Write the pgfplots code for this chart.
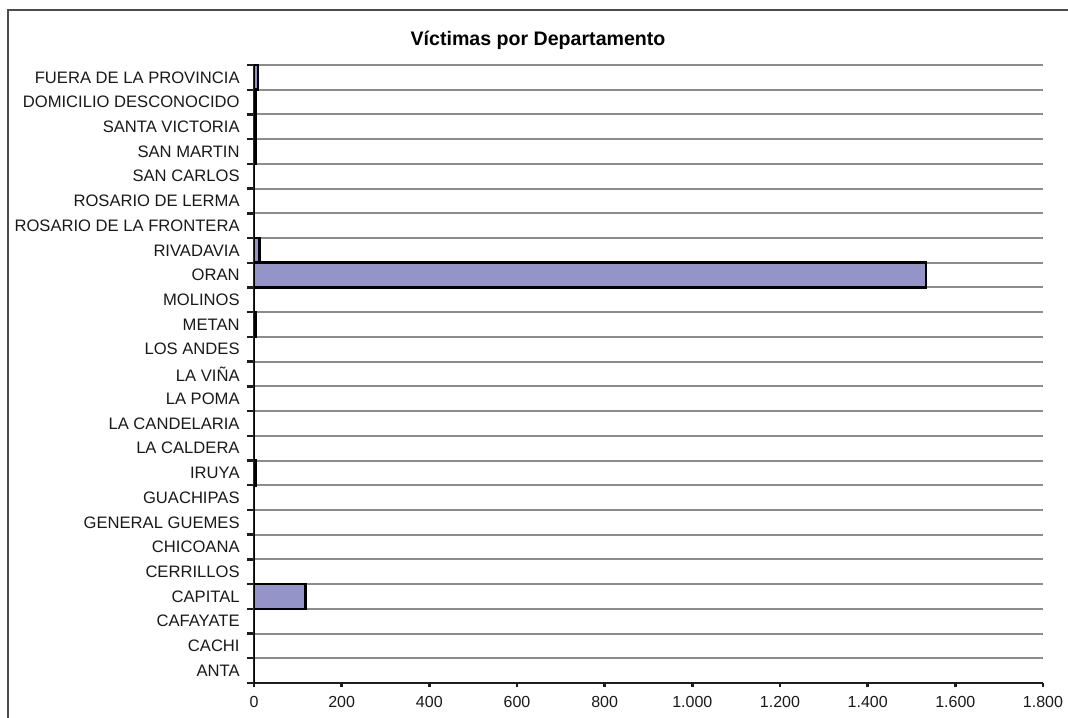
\documentclass[border=0pt]{standalone}
\usepackage{fontspec}
\setmainfont{Liberation Sans}
\usepackage{pgfplots}
\pgfplotsset{compat=1.18}
\definecolor{barfill}{RGB}{148,148,200}
\definecolor{gridc}{RGB}{140,140,140}
\definecolor{axc}{RGB}{30,28,30}
\begin{document}
\begin{tikzpicture}
\begin{axis}[
  at={(0,0)}, anchor=south west,
  scale only axis, width=394.5pt, height=309pt,
  xbar, bar width=1,
  axis x line=bottom, axis y line=left,
  axis line style={-, line width=1.3pt, color=axc},
  tick align=outside,
  xmin=0, xmax=1800, ymin=-0.5, ymax=24.5,
  xtick={0,200,...,1800},
  /pgf/number format/.cd, 1000 sep={.}, assume math mode=true, /pgfplots/.cd,
  ytick={0,...,24},
  yticklabels={ANTA,CACHI,CAFAYATE,CAPITAL,CERRILLOS,CHICOANA,GENERAL GUEMES,GUACHIPAS,IRUYA,LA CALDERA,LA CANDELARIA,LA POMA,LA VIÑA,LOS ANDES,METAN,MOLINOS,ORAN,RIVADAVIA,ROSARIO DE LA FRONTERA,ROSARIO DE LERMA,SAN CARLOS,SAN MARTIN,SANTA VICTORIA,DOMICILIO DESCONOCIDO,FUERA DE LA PROVINCIA},
  minor ytick={-0.5,0.5,...,24.5},
  yminorgrids=true,
  minor grid style={color=gridc, line width=1pt},
  major tick length=2pt, minor tick length=3.5pt,
  major y tick style={draw=none},
  minor y tick style={line width=1.2pt, color=axc},
  major x tick style={line width=1.2pt, color=axc},
  y tick label style={font=\fontsize{8.3}{10}\selectfont, text=black!90, anchor=east, inner sep=0pt, xshift=-5pt},
  x tick label style={font=\fontsize{8}{10}\selectfont, text=black!90, inner sep=0pt, yshift=-4.5pt},
  title={Víctimas por Departamento},
  title style={at={(0.36,1.0405)}, anchor=center, yshift=-6pt, inner sep=0pt, font=\bfseries\fontsize{9.8}{11}\selectfont},
]
\addplot[fill=barfill, draw=black, line width=1.3pt] coordinates {
  (0,0) (0,1) (0,2) (118,3) (0,4) (0,5) (0,6) (0,7) (4,8) (0,9) (0,10) (0,11) (0,12) (0,13) (5,14) (0,15) (1533,16) (13,17) (0,18) (0,19) (0,20) (5,21) (4,22) (4,23) (9,24)
};
\end{axis}
\pgfresetboundingbox
\useasboundingbox (-127pt,-17pt) rectangle (407pt,341.5pt);
\draw[line width=1.3pt, color=black!70] (-123pt,-20pt) -- (-123pt,336.5pt) -- (410pt,336.5pt);
\end{tikzpicture}
\end{document}
